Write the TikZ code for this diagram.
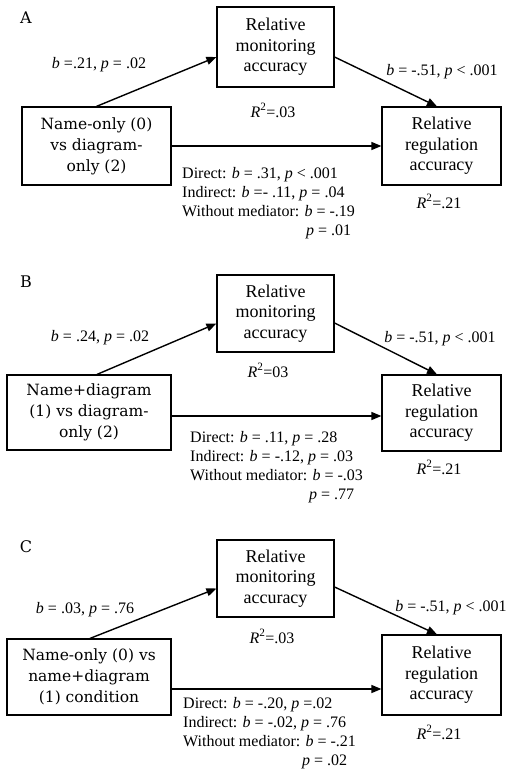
\documentclass[tikz,border=0pt]{standalone}
\usepackage{fontspec}
\setmainfont{Liberation Serif}
\newfontfamily\cam{DejaVu Serif}
\usetikzlibrary{arrows.meta,calc}
\begin{document}
\begin{tikzpicture}[x=1pt,y=-1pt,
  box/.style={draw,line width=1.2pt,inner sep=0,align=center},
  medbox/.style={box,minimum width=117pt,minimum height=79pt,font=\fontsize{18}{20.5}\selectfont},
  outbox/.style={box,minimum width=119pt,minimum height=78pt,font=\fontsize{18}{20.5}\selectfont},
  predbox/.style={box,minimum height=77pt,font=\cam\fontsize{15.5}{21}\selectfont},
  lab/.style={font=\fontsize{16}{19}\selectfont,inner sep=0,anchor=base},
  blk/.style={font=\fontsize{16}{19}\selectfont,inner sep=0,anchor=north west,align=left},
  panel/.style={font=\cam\fontsize{16}{20}\selectfont,inner sep=0,anchor=base},
  arr/.style={line width=1.4pt,-{Triangle[length=10pt,width=8pt]}}
]
\useasboundingbox (0,0) rectangle (508,769);
\fill[white] (0,0) rectangle (508,769);

% Panel A
\node[panel] (la) at (26,23) {A};
\node[medbox,minimum height=80pt] (ma) at (275.5,47) {Relative\\monitoring\\accuracy};
\node[predbox,minimum width=149pt,minimum height=78pt] (xa) at (96.5,146) {Name-only (0)\\vs diagram-\\only (2)};
\node[outbox] (ya) at (441.5,146) {Relative\\regulation\\accuracy};
\draw[arr] (xa.north) -- ([yshift=-10pt]ma.west);
\draw[arr] ([yshift=-10pt]ma.east) -- ([xshift=-4.5pt]ya.north);
\draw[arr] (xa.east) -- (ya.west);
\node[lab] (a1) at (99,68) {\textit{b} =.21, \textit{p} = .02};
\node[lab] (a2) at (442,75) {\textit{b} = -.51, \textit{p} < .001};
\node[lab] (a3) at (273,117) {\textit{R}\textsuperscript{2}=.03};
\node[lab] (a4) at (439,208) {\textit{R}\textsuperscript{2}=.21};
\node[blk] (a5) at (182,167.5) {Direct: \textit{b} = .31, \textit{p} < .001\\Indirect: \textit{b} =- .11, \textit{p} = .04\\Without mediator: \textit{b} = -.19\\\hspace*{124pt}\textit{p} = .01};

% Panel B
\node[panel] (lb) at (26,287) {B};
\node[medbox,minimum height=77pt] (mb) at (275.5,313.5) {Relative\\monitoring\\accuracy};
\node[predbox,minimum width=164pt,minimum height=75pt] (xb) at (89,412.5) {Name+diagram\\(1) vs diagram-\\only (2)};
\node[outbox,minimum height=76pt] (yb) at (441.5,413) {Relative\\regulation\\accuracy};
\draw[arr] ([xshift=8pt]xb.north) -- ([yshift=-10pt]mb.west);
\draw[arr] ([yshift=-9.5pt]mb.east) -- ([xshift=-4.5pt]yb.north);
\draw[arr] ([yshift=-3.5pt]xb.east) -- ([yshift=-3.5pt]xb.east -| yb.west);
\node[lab] (b1) at (100,341) {\textit{b} = .24, \textit{p} = .02};
\node[lab] (b2) at (440,342) {\textit{b} = -.51, \textit{p} < .001};
\node[lab] (b3) at (268,377) {\textit{R}\textsuperscript{2}=03};
\node[lab] (b4) at (439,474) {\textit{R}\textsuperscript{2}=.21};
\node[blk] (b5) at (190,431.5) {Direct: \textit{b} = .11, \textit{p} = .28\\Indirect: \textit{b} = -.12, \textit{p} = .03\\Without mediator: \textit{b} = -.03\\\hspace*{119pt}\textit{p} = .77};

% Panel C
\node[panel] (lc) at (26,552) {C};
\node[medbox,minimum height=77pt] (mc) at (275.5,578.5) {Relative\\monitoring\\accuracy};
\node[predbox,minimum width=164pt,minimum height=76pt] (xc) at (89,677) {Name-only (0) vs\\name+diagram\\(1) condition};
\node[outbox,minimum height=80pt] (yc) at (441.5,675) {Relative\\regulation\\accuracy};
\draw[arr] ([xshift=1pt]xc.north) -- ([yshift=-10pt]mc.west);
\draw[arr] ([yshift=-8.5pt]mc.east) -- ([xshift=-4.5pt]yc.north);
\draw[arr] ([yshift=-12pt]xc.east) -- ([yshift=-12pt]xc.east -| yc.west);
\node[lab] (c1) at (85,613) {\textit{b} = .03, \textit{p} = .76};
\node[lab] (c2) at (451,611) {\textit{b} = -.51, \textit{p} < .001};
\node[lab] (c3) at (272,643) {\textit{R}\textsuperscript{2}=.03};
\node[lab] (c4) at (439,739) {\textit{R}\textsuperscript{2}=.21};
\node[blk] (c5) at (183,697.5) {Direct: \textit{b} = -.20, \textit{p} =.02\\Indirect: \textit{b} = -.02, \textit{p} = .76\\Without mediator: \textit{b} = -.21\\\hspace*{119pt}\textit{p} = .02};
\end{tikzpicture}
\end{document}
